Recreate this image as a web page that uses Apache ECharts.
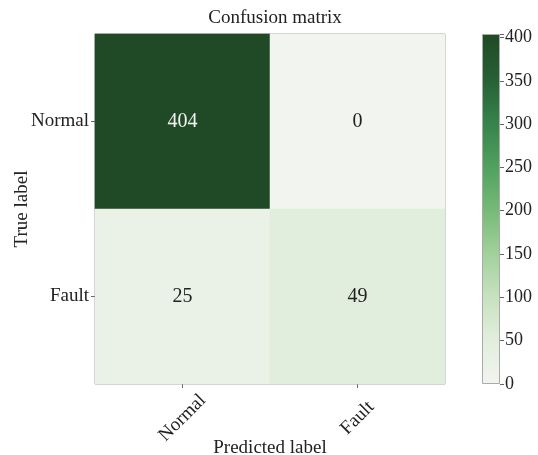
<!DOCTYPE html>
<html>
<head>
<meta charset="utf-8">
<script src="https://cdn.jsdelivr.net/npm/echarts@6/dist/echarts.min.js"></script>
<style>html,body{margin:0;padding:0;background:#fff}#c{width:538px;height:455px}</style>
</head>
<body>
<div id="c"></div>
<script>
// Data
var predictedLabels = ['Normal', 'Fault'];
var trueLabels = ['Normal', 'Fault'];
var matrixRowNormal = [404, 0];
var matrixRowFault = [25, 49];
var colorbarTicks = [0, 50, 100, 150, 200, 250, 300, 350, 400];
var colorMax = 404;
var palette = ['#f1f4ef', '#e2eedc', '#c6e2be', '#a1d09a', '#76b976', '#4fa05e', '#35824a', '#265f33', '#1f4a25'];

var rows = [matrixRowNormal, matrixRowFault];
var yCats = trueLabels.slice().reverse(); // bottom to top
var heatData = [];
rows.forEach(function (row, ri) {
  row.forEach(function (v, ci) {
    heatData.push({
      value: [ci, trueLabels.length - 1 - ri, v],
      label: {color: v > colorMax / 2 ? '#f2f2f2' : '#222'}
    });
  });
});
var stops = palette.map(function (c, i) { return {offset: i / (palette.length - 1), color: c}; });

var serif = '"Liberation Serif", "DejaVu Serif", serif';
var chart = echarts.init(document.getElementById('c'), null, {renderer: 'canvas'});
chart.setOption({
  backgroundColor: '#fff',
  animation: false,
  title: {
    text: 'Confusion matrix',
    left: 270, top: 4, textAlign: 'center',
    textStyle: {fontFamily: serif, fontSize: 19, fontWeight: 'normal', color: '#222'}
  },
  grid: [
    {left: 95, top: 34, width: 350, height: 350, show: true, borderColor: '#999', borderWidth: 1,
      backgroundColor: 'transparent', outerBoundsMode: 'none', containLabel: false},
    {left: 482, top: 34, width: 18, height: 350, show: false,
      outerBoundsMode: 'none', containLabel: false}
  ],
  xAxis: [
    {
      type: 'category', gridIndex: 0, data: predictedLabels,
      axisLine: {show: false},
      axisTick: {show: true, alignWithLabel: true, length: 4, lineStyle: {color: '#666'}},
      axisLabel: {rotate: 45, margin: 34, align: 'center', verticalAlign: 'middle',
        fontFamily: serif, fontSize: 19, color: '#222'},
      splitLine: {show: false},
      name: 'Predicted label', nameLocation: 'middle', nameGap: 55, nameMoveOverlap: false,
      nameTextStyle: {fontFamily: serif, fontSize: 19, color: '#222'}
    },
    {type: 'category', gridIndex: 1, data: [''], show: false}
  ],
  yAxis: [
    {
      type: 'category', gridIndex: 0, data: yCats,
      axisLine: {show: false},
      axisTick: {show: true, alignWithLabel: true, length: 4, lineStyle: {color: '#666'}},
      axisLabel: {margin: 6, fontFamily: serif, fontSize: 19, color: '#222'},
      splitLine: {show: false},
      name: 'True label', nameLocation: 'middle', nameGap: 63, nameRotate: 90, nameMoveOverlap: false,
      nameTextStyle: {fontFamily: serif, fontSize: 19, color: '#222'}
    },
    {
      type: 'value', gridIndex: 1, position: 'right', min: 0, max: colorMax, interval: 50,
      axisLine: {show: false},
      axisTick: {show: true, length: 4, lineStyle: {color: '#666'}},
      axisLabel: {margin: 5, fontFamily: serif, fontSize: 18, color: '#222',
        customValues: colorbarTicks},
      splitLine: {show: false}
    }
  ],
  visualMap: [{
    type: 'continuous', min: 0, max: colorMax, seriesIndex: 0,
    calculable: false, show: false,
    inRange: {color: palette}
  }],
  series: [{
    type: 'heatmap', xAxisIndex: 0, yAxisIndex: 0, data: heatData,
    label: {
      show: true, fontFamily: serif, fontSize: 20,
      formatter: function (p) { return p.value[2]; },
      color: '#222'
    },
    itemStyle: {borderWidth: 0},
    emphasis: {disabled: true}
  }, {
    type: 'bar', xAxisIndex: 1, yAxisIndex: 1, data: [colorMax], barWidth: '100%',
    silent: true,
    itemStyle: {
      color: new echarts.graphic.LinearGradient(0, 1, 0, 0, stops),
      borderColor: '#aaa', borderWidth: 1
    }
  }]
});
</script>
</body>
</html>
